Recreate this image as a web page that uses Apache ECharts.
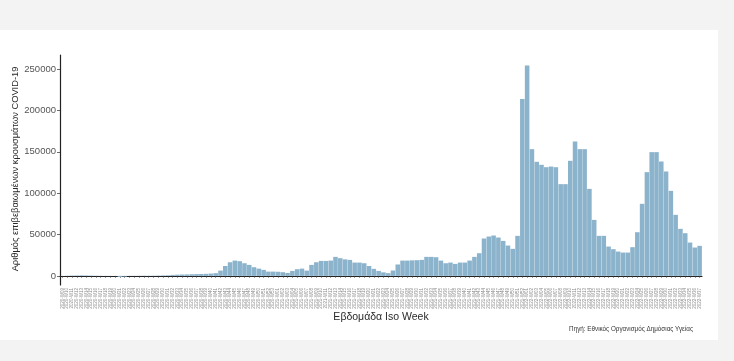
<!DOCTYPE html>
<html>
<head>
<meta charset="utf-8">
<script src="https://cdn.jsdelivr.net/npm/echarts@6/dist/echarts.min.js"></script>
<style>
html,body{margin:0;padding:0;background:#f3f3f3;}
#c{width:734px;height:361px;}
</style>
</head>
<body>
<div id="c"></div>
<script>
// ISO weeks shown per year
const weeks2020 = [9,10,11,12,13,14,15,16,17,18,19,20,21,22,23,24,25,26,27,28,29,30,31,32,33,34,35,36,37,38,39,40,41,42,43,44,45,46,47,48,49,50,51,52,53];
const weeks2021 = [1,2,3,4,5,6,7,8,9,10,11,12,13,14,15,16,17,18,19,20,21,22,23,24,25,26,27,28,29,30,31,32,33,34,35,36,37,38,39,40,41,42,43,44,45,46,47,48,49,50,51,52];
const weeks2022 = [1,2,3,4,5,6,7,8,9,10,11,12,13,14,15,16,17,18,19,20,21,22,23,24,25,26,27,28,29,30,31,32,33,34,35,36,37];

// Weekly confirmed cases
const cases2020 = [50,250,500,600,700,550,450,300,200,150,100,80,-1200,-800,150,200,250,300,250,300,450,600,800,1200,1500,1700,1800,2000,2200,2300,2500,2800,3300,6400,12000,16500,18500,17800,15300,13300,10500,8800,7300,5200,5200];
const cases2021 = [5000,4500,3500,6000,8100,8800,6400,13300,16500,18100,18100,18500,23000,21400,20000,19350,16100,16100,15300,12000,8500,6000,4300,3300,6500,13800,18500,18500,18800,19000,19350,23000,23000,22600,18500,15300,16100,14500,16100,16100,18500,23000,27400,45200,47600,48800,46400,42300,36700,32700,48400,213700];
const cases2022 = [254400,153200,137900,134300,131400,132200,131400,110900,110900,139100,162500,153200,153200,105200,67700,48400,48400,35500,32300,29400,28200,28200,34700,52800,87100,125400,149600,149600,138300,126200,102800,73800,56900,51600,40300,34300,36300];

const yTicks = [0,50000,100000,150000,200000,250000];

function pad(w){return (w<10?'0':'')+w;}
const categories = []
  .concat(weeks2020.map(w=>'2020-W'+pad(w)))
  .concat(weeks2021.map(w=>'2021-W'+pad(w)))
  .concat(weeks2022.map(w=>'2022-W'+pad(w)));
const values = cases2020.concat(cases2021, cases2022);

const chart = echarts.init(document.getElementById('c'));
const FONT = 'Liberation Sans, Arial, sans-serif';
chart.setOption({
  backgroundColor: '#f3f3f3',
  animation: false,
  graphic: [
    {type:'rect', z:-10, shape:{x:0,y:30,width:718,height:310}, style:{fill:'#ffffff'}},
    {type:'text', x:15, y:169, rotation:Math.PI/2,
     style:{text:'Αριθμός επιβεβαιωμένων κρουσμάτων COVID-19', fontSize:9.3, fontFamily:FONT, fill:'#2a2a2a', align:'center', verticalAlign:'middle'}},
    {type:'text', x:381, y:317,
     style:{text:'Εβδομάδα Iso Week', fontSize:10.5, fontFamily:FONT, fill:'#2a2a2a', align:'center', verticalAlign:'middle'}},
    {type:'text', x:693, y:329,
     style:{text:'Πηγή: Εθνικός Οργανισμός Δημόσιας Υγείας', fontSize:6.3, fontFamily:FONT, fill:'#333333', align:'right', verticalAlign:'middle'}}
  ],
  grid: {left:60, top:55, width:642, height:230, containLabel:false},
  xAxis: {
    type:'category',
    data: categories,
    boundaryGap: true,
    axisLine: {show:true, lineStyle:{color:'#222222', width:1.2}},
    axisTick: {show:true, interval:0, alignWithLabel:true, length:2, lineStyle:{color:'#444444', width:0.6}},
    axisLabel: {interval:0, rotate:90, fontSize:4.5, color:'#8a8a8a', margin:3, fontFamily:FONT},
    splitLine: {show:false}
  },
  yAxis: {
    type:'value',
    min:-11000, max:267000,
    axisLine: {show:true, lineStyle:{color:'#222222', width:1.2}},
    axisTick: {show:true, length:3, customValues:yTicks, lineStyle:{color:'#444444', width:0.8}},
    axisLabel: {fontSize:9.5, color:'#555555', margin:4, fontFamily:FONT, customValues:yTicks,
      formatter: function(v){return String(v);}},
    splitLine: {show:false}
  },
  series: [{
    type:'bar',
    data: values,
    barCategoryGap:'5%',
    itemStyle: {color:'#8cb3cc'}
  }]
});
</script>
</body>
</html>
